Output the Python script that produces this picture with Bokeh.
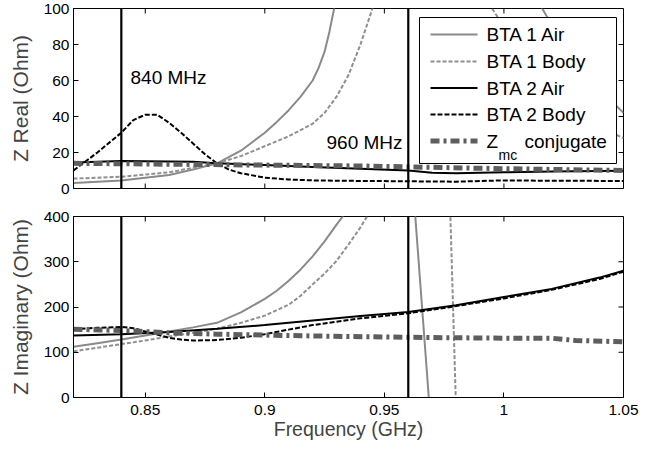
from bokeh.plotting import figure
from bokeh.layouts import column
from bokeh.models import Range1d, FixedTicker, Span, Label, NumeralTickFormatter
from bokeh.core.properties import value
from bokeh.embed import file_html
from bokeh.resources import INLINE

FONT = "Liberation Sans"

# ---------------- data ----------------
x_ticks = [0.85, 0.9, 0.95, 1.0, 1.05]
real_ticks = [0, 20, 40, 60, 80, 100]
imag_ticks = [0, 100, 200, 300, 400]
marker_freqs = [0.84, 0.96]
marker_labels = ["840 MHz", "960 MHz"]

# Real part (Ohm)
bta1_air_re_f = [0.82, 0.84, 0.86, 0.87, 0.88, 0.89, 0.895, 0.90, 0.905, 0.91, 0.915, 0.92, 0.9225, 0.925, 0.927, 0.929, 0.935, 1.00, 1.016, 1.03, 1.05]
bta1_air_re_v = [3, 4.5, 7.5, 10.5, 14, 21, 26, 31, 37, 43.5, 51, 60, 67, 76, 87, 100, 150, 150, 100, 68, 42]

bta1_body_re_f = [0.82, 0.84, 0.86, 0.88, 0.89, 0.90, 0.91, 0.92, 0.925, 0.93, 0.935, 0.94, 0.945, 0.95, 0.98, 1.00, 1.02, 1.04, 1.05]
bta1_body_re_v = [5.5, 6.5, 9, 14, 18, 23.5, 29, 36, 42, 51, 63, 80, 100, 125, 130, 90, 55, 34, 28]

bta2_air_re_f = [0.82, 0.84, 0.86, 0.87, 0.88, 0.90, 0.92, 0.94, 0.96, 0.97, 0.98, 1.00, 1.02, 1.05]
bta2_air_re_v = [14.5, 15.3, 15, 14.8, 14, 13, 12, 11, 10, 8.8, 8.5, 9, 9.5, 9.8]

bta2_body_re_f = [0.82, 0.83, 0.84, 0.845, 0.85, 0.855, 0.86, 0.865, 0.87, 0.875, 0.88, 0.885, 0.89, 0.90, 0.91, 0.92, 0.94, 0.96, 0.98, 1.00, 1.02, 1.05]
bta2_body_re_v = [10, 20, 31, 38, 41, 41, 36.5, 31, 25, 19, 14, 10.5, 8.5, 6, 5, 4.5, 4.2, 4, 3.8, 4.5, 4.3, 4.2]

zmc_re_f = [0.82, 0.86, 0.90, 0.94, 0.96, 1.00, 1.05]
zmc_re_v = [14, 13.5, 13, 12.5, 12, 11, 10]

# Imaginary part (Ohm)
bta1_air_im_f = [0.82, 0.83, 0.84, 0.85, 0.86, 0.87, 0.88, 0.89, 0.90, 0.905, 0.91, 0.915, 0.92, 0.925, 0.93, 0.9326, 0.937, 0.9618, 0.969]
bta1_air_im_v = [112, 120, 128, 137, 146, 155, 165, 188, 218, 236, 258, 283, 312, 345, 382, 400, 480, 480, -30]

bta1_body_im_f = [0.82, 0.83, 0.84, 0.85, 0.86, 0.87, 0.88, 0.89, 0.90, 0.91, 0.915, 0.92, 0.925, 0.93, 0.935, 0.94, 0.945, 0.9775, 0.980]
bta1_body_im_v = [102, 110, 118, 126, 135, 143, 152, 165, 181, 205, 225, 250, 274, 302, 338, 376, 420, 420, -30]

bta2_air_im_f = [0.82, 0.84, 0.86, 0.88, 0.90, 0.92, 0.94, 0.96, 0.98, 1.00, 1.02, 1.04, 1.05]
bta2_air_im_v = [137, 140, 145, 152, 160, 170, 180, 189, 204, 222, 240, 265, 280]

bta2_body_im_f = [0.82, 0.83, 0.84, 0.845, 0.85, 0.855, 0.86, 0.865, 0.87, 0.88, 0.89, 0.90, 0.91, 0.92, 0.94, 0.96, 0.98, 1.00, 1.02, 1.04, 1.05]
bta2_body_im_v = [151, 154, 156, 153, 146, 139, 132, 128, 126, 127, 132, 140, 150, 160, 175, 186, 202, 219, 238, 262, 278]

zmc_im_f = [0.82, 0.84, 0.86, 0.88, 0.90, 0.92, 0.96, 1.00, 1.02, 1.03, 1.05]
zmc_im_v = [151, 148, 143, 140, 138, 136, 133, 131, 131, 126, 123]

series_keys = ["bta1_air", "bta1_body", "bta2_air", "bta2_body", "zmc"]
legend_labels = ["BTA 1 Air", "BTA 1 Body", "BTA 2 Air", "BTA 2 Body", "Z"]
legend_sub = "mc"
legend_tail = "conjugate"

# ---------------- styles ----------------
STY = {
    "bta1_air": dict(line_color="#8a8a8a", line_width=2),
    "bta1_body": dict(line_color="#8f8f8f", line_width=2, line_dash="4 2"),
    "bta2_air": dict(line_color="#000000", line_width=2),
    "bta2_body": dict(line_color="#000000", line_width=2, line_dash="5 2"),
    "zmc": dict(line_color="#5e5e5e", line_width=5, line_dash="9 4 3 4"),
}

X0, X1 = 0.82, 1.05
FW = 550
FL = 73          # frame left in page pixels
TOP_FT, TOP_FH = 8, 180   # top frame: top pixel and height
TICK_PX = 5


def px2x(px):
    return X0 + (px - FL) / FW * (X1 - X0)


def py2y(py):
    return (TOP_FT + TOP_FH - py) / TOP_FH * 100.0


def add_inner_ticks(p, ymax, frame_h, yticks, top=True, bottom=True, right=True):
    dx = TICK_PX * (X1 - X0) / FW
    dy = TICK_PX * ymax / frame_h
    kw = dict(line_color="black", line_width=1)
    if top:
        p.segment(x0=x_ticks, y0=[ymax] * len(x_ticks), x1=x_ticks,
                  y1=[ymax - dy] * len(x_ticks), **kw)
    if bottom:
        p.segment(x0=x_ticks, y0=[0] * len(x_ticks), x1=x_ticks,
                  y1=[dy] * len(x_ticks), **kw)
    if right:
        p.segment(x0=[X1] * len(yticks), y0=yticks, x1=[X1 - dx] * len(yticks),
                  y1=yticks, **kw)


def make_fig(ymax, yticks, frame_h, top, bottom, ylabel, xlabels):
    p = figure(frame_width=FW, frame_height=frame_h,
               x_range=Range1d(X0, X1), y_range=Range1d(0, ymax),
               output_backend="svg", toolbar_location=None,
               min_border_left=FL, min_border_right=30,
               min_border_top=top, min_border_bottom=bottom,
               background_fill_color="white", border_fill_color="white")
    p.grid.visible = False
    p.outline_line_color = "black"
    p.outline_line_width = 1
    ya = p.yaxis[0]
    ya.ticker = FixedTicker(ticks=yticks)
    ya.axis_line_color = "black"
    ya.major_tick_line_color = "black"
    ya.major_tick_in = TICK_PX
    ya.major_tick_out = 0
    ya.minor_tick_line_color = None
    ya.major_label_text_font = FONT
    ya.major_label_text_font_size = "15.5px"
    ya.major_label_text_color = "black"
    ya.major_label_standoff = 4
    ya.axis_label = ylabel
    ya.axis_label_text_font = FONT
    ya.axis_label_text_font_size = "21px"
    ya.axis_label_text_font_style = "normal"
    ya.axis_label_standoff = 9
    xa = p.xaxis[0]
    if xlabels:
        xa.ticker = FixedTicker(ticks=x_ticks)
        xa.formatter = NumeralTickFormatter(format="0.[00]")
        xa.axis_line_color = "black"
        xa.major_tick_line_color = "black"
        xa.major_tick_in = TICK_PX
        xa.major_tick_out = 0
        xa.minor_tick_line_color = None
        xa.major_label_text_font = FONT
        xa.major_label_text_font_size = "15.5px"
        xa.major_label_text_color = "black"
        xa.major_label_standoff = 7
        xa.axis_label = "Frequency (GHz)"
        xa.axis_label_text_font = FONT
        xa.axis_label_text_font_size = "19.5px"
        xa.axis_label_text_font_style = "normal"
        xa.axis_label_standoff = 0
    else:
        xa.visible = False
    add_inner_ticks(p, ymax, frame_h, yticks, top=True, bottom=not xlabels, right=True)
    for f in marker_freqs:
        p.add_layout(Span(location=f, dimension="height", line_color="black", line_width=2.2))
    return p


# ---------------- top: real part ----------------
pt = make_fig(100, real_ticks, TOP_FH, TOP_FT, 18, "Z Real (Ohm)", False)
real_data = {
    "bta1_air": (bta1_air_re_f, bta1_air_re_v),
    "bta1_body": (bta1_body_re_f, bta1_body_re_v),
    "bta2_air": (bta2_air_re_f, bta2_air_re_v),
    "bta2_body": (bta2_body_re_f, bta2_body_re_v),
    "zmc": (zmc_re_f, zmc_re_v),
}
for k in series_keys:
    f, v = real_data[k]
    pt.line(f, v, **STY[k])

# legend box (drawn as glyphs so the subscripted last entry can be composed)
LB_L, LB_R, LB_T, LB_B = 419, 616, 17, 163
row_y = [34, 61, 87.5, 114, 140.5]
pt.quad(left=[px2x(LB_L)], right=[px2x(LB_R)], top=[py2y(LB_T)], bottom=[py2y(LB_B)],
        fill_color="white", line_color="black", line_width=1)
for k, lab, ry in zip(series_keys, legend_labels, row_y):
    pt.line([px2x(430), px2x(477)], [py2y(ry), py2y(ry)], **STY[k])
    pt.text(x=[px2x(486)], y=[py2y(ry)], text=[lab], text_font=value(FONT),
            text_font_size="19px", text_baseline="middle", text_align="left",
            text_color="black")
pt.text(x=[px2x(498)], y=[py2y(154)], text=[legend_sub], text_font=value(FONT),
        text_font_size="14px", text_baseline="alphabetic", text_align="left",
        text_color="black")
pt.text(x=[px2x(524)], y=[py2y(row_y[-1])], text=[legend_tail], text_font=value(FONT),
        text_font_size="19px", text_baseline="middle", text_align="left",
        text_color="black")

label_pos = [(px2x(130), py2y(77)), (px2x(326), py2y(142))]
for (lx, ly), txt in zip(label_pos, marker_labels):
    pt.add_layout(Label(x=lx, y=ly, text=txt, text_font=FONT, text_font_size="19px",
                        text_baseline="middle", text_align="left", text_color="black"))

# ---------------- bottom: imaginary part ----------------
pb = make_fig(400, imag_ticks, 181, 10, 53, "Z Imaginary (Ohm)", True)
imag_data = {
    "bta1_air": (bta1_air_im_f, bta1_air_im_v),
    "bta1_body": (bta1_body_im_f, bta1_body_im_v),
    "bta2_air": (bta2_air_im_f, bta2_air_im_v),
    "bta2_body": (bta2_body_im_f, bta2_body_im_v),
    "zmc": (zmc_im_f, zmc_im_v),
}
for k in series_keys:
    f, v = imag_data[k]
    pb.line(f, v, **STY[k])

layout = column(pt, pb, spacing=0)
open("out.html", "w").write(file_html(layout, INLINE))
